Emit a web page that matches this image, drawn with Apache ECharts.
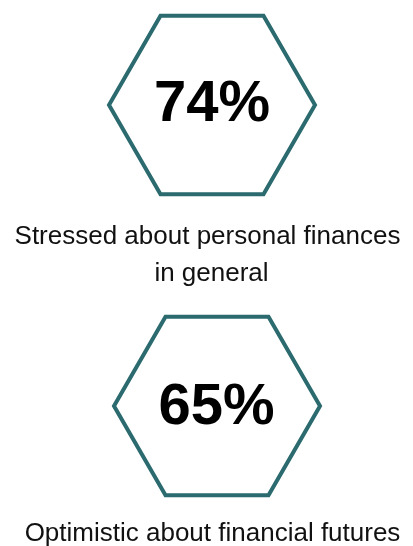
<!DOCTYPE html>
<html>
<head>
<meta charset="utf-8">
<script src="https://cdn.jsdelivr.net/npm/echarts@6/dist/echarts.min.js"></script>
<style>
html,body{margin:0;padding:0;background:#fff;}
#c{width:413px;height:546px;}
</style>
</head>
<body>
<div id="c"></div>
<script>
// Data
const categories = ['Stressed about personal finances\nin general', 'Optimistic about financial futures'];
const values = [74, 65];
const valueSuffix = '%';

// Layout (pixels, drawing only)
const HEX_R = 103;
const DX = [0, 5];            // per-item horizontal nudge
const TEXT_DX = [0, -0.5];
const CAPTION_DY = [131.5, 128]; // cap-centre of first caption line below hex centre
const CAPTION_CX = [-4.5, -4.5];
const LINE_H = 37;
const FONT = '"Liberation Sans", Arial, Helvetica, sans-serif';
const TEAL = '#2b6a6e';

const chart = echarts.init(document.getElementById('c'), null, {renderer: 'canvas'});

const data = values.map((v, i) => [0, categories[i], v]);

chart.setOption({
  animation: false,
  backgroundColor: '#ffffff',
  grid: {left: 11, right: 0, top: 105, bottom: 140},
  xAxis: {type: 'value', min: -1, max: 1, show: false},
  yAxis: {type: 'category', data: categories, inverse: true, boundaryGap: false, show: false},
  series: [{
    type: 'custom',
    clip: false,
    encode: {x: 0, y: 1},
    data: data,
    renderItem: function (params, api) {
      const i = params.dataIndex;
      const c = api.coord([api.value(0), api.value(1)]);
      const cx = c[0] + DX[i];
      const cy = c[1];
      const pts = [];
      for (let k = 0; k < 6; k++) {
        const a = Math.PI / 3 * k;
        pts.push([cx + HEX_R * Math.cos(a), cy + HEX_R * Math.sin(a)]);
      }
      const children = [{
        type: 'polygon',
        shape: {points: pts},
        style: {fill: 'none', stroke: TEAL, lineWidth: 4, lineJoin: 'miter'}
      }, {
        type: 'text',
        x: cx + TEXT_DX[i],
        y: cy - 0.5 + (i === 1 ? 2.5 : 0),
        style: {
          text: api.value(2) + valueSuffix,
          fontSize: 58, fontWeight: 'bold', fontFamily: FONT,
          fill: '#000000', align: 'center', verticalAlign: 'middle'
        }
      }];
      const lines = categories[i].split('\n');
      lines.forEach(function (ln, j) {
        children.push({
          type: 'text',
          x: cx + CAPTION_CX[i] + (j > 0 ? 4 : 0),
          y: cy + CAPTION_DY[i] + j * LINE_H,
          style: {
            text: ln, fontSize: 26, fontFamily: FONT,
            fill: '#111111', align: 'center', verticalAlign: 'middle'
          }
        });
      });
      return {type: 'group', children: children};
    }
  }]
});
</script>
</body>
</html>
